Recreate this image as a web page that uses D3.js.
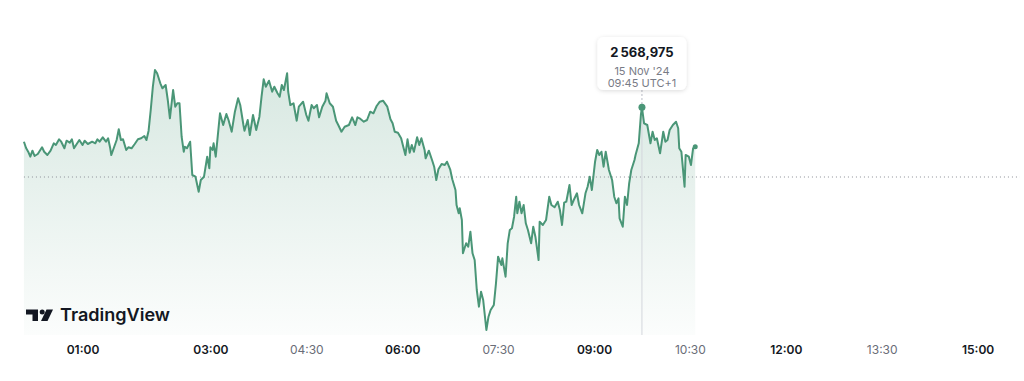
<!DOCTYPE html>
<html>
<head>
<meta charset="utf-8">
<script src="https://cdn.jsdelivr.net/npm/d3@7/dist/d3.min.js"></script>
<style>
  html, body { margin: 0; padding: 0; background: #ffffff; }
  svg { display: block; font-family: Inter, "Noto Sans", sans-serif; }
</style>
</head>
<body>
<svg id="chart" width="1024" height="381"></svg>
<script>
// ---- data (minutes since 00:00, price) ----
const times = [5,7,9,11,13,15,18,22,24,27,30,33,35,38,40,43,45,48,50,52,55,57,60,62,65,69,72,74,76,79,82,84,86,87,90,92,94,96,98,101,103,106,109,112,115,118,120,122,124,126,128,130,133,135,138,140,142,145,147,149,151,153,155,156,158,161,163,166,169,171,174,177,179,180,182,183,185,189,192,195,197,200,203,206,208,211,212,215,217,220,223,226,228,230,232,235,238,240,243,245,247,249,252,253,255,258,261,263,267,270,272,275,277,280,282,285,288,289,292,295,298,300,303,306,310,313,316,318,320,324,327,330,333,336,339,342,346,349,351,353,356,359,361,363,365,367,369,371,374,376,378,381,382,385,388,390,392,394,397,400,402,405,407,410,411,413,414,416,417,420,422,424,426,428,430,432,434,436,439,441,443,446,448,450,453,454,457,459,461,463,465,467,468,470,472,474,476,478,481,483,485,488,489,492,495,498,500,503,506,508,510,512,514,517,519,521,524,526,529,532,534,536,538,541,543,545,547,549,551,554,557,559,561,563,564,567,569,571,573,575,578,579,582,584,585,587,590,593,595,597,599,602,605,607,609,611,614,617,619,620,622,625,626,629,631,633,635];
const values = [2562095,2560835,2560095,2559095,2560295,2559235,2559635,2560975,2560095,2559435,2560295,2561775,2561435,2562575,2562095,2560775,2562295,2561895,2562575,2560775,2561775,2562435,2561435,2562295,2561635,2562095,2561775,2562575,2562095,2562975,2562095,2562775,2560775,2559435,2561235,2562435,2564575,2562435,2562575,2560435,2560975,2560775,2561635,2562575,2562775,2563235,2562435,2564295,2568435,2573095,2576435,2575775,2573775,2572775,2573435,2570435,2566775,2572435,2569095,2569775,2569775,2563095,2560095,2561095,2560775,2562095,2555435,2555095,2552095,2554435,2555095,2559095,2556775,2560975,2560435,2561775,2559095,2567775,2565435,2567635,2566435,2564095,2568095,2570775,2569435,2565435,2564295,2566435,2563435,2567435,2564435,2567095,2571095,2574575,2573095,2574295,2572095,2573095,2571775,2571095,2573435,2572435,2575775,2572095,2569435,2569775,2566295,2569095,2570095,2567435,2566295,2569435,2568775,2569435,2566975,2569095,2570295,2571775,2569775,2569095,2566295,2565435,2564095,2565095,2565435,2566975,2565435,2566975,2566775,2566095,2566435,2568095,2567775,2569235,2570095,2570295,2569095,2566575,2565775,2564095,2563895,2562775,2561095,2559435,2562575,2559895,2561435,2560095,2562975,2561435,2562775,2560435,2558775,2560295,2558435,2557095,2554435,2556575,2557635,2557435,2558095,2556575,2554575,2552435,2549435,2547775,2548775,2546435,2539775,2541775,2541095,2544095,2539775,2538435,2532435,2529095,2532095,2530435,2524435,2527095,2528435,2529435,2533775,2539095,2537435,2538775,2535095,2541775,2544435,2544775,2547095,2551095,2547775,2550095,2547775,2549435,2545775,2544435,2541775,2545095,2543095,2538435,2546095,2545435,2546435,2551095,2549435,2548975,2550095,2548435,2545435,2549895,2550095,2553435,2549435,2550435,2551775,2549435,2547775,2551775,2553095,2555095,2552435,2558095,2560435,2559435,2560095,2557095,2560095,2556435,2554435,2551095,2549775,2550775,2546775,2545095,2551095,2549435,2553775,2556435,2558435,2559435,2561775,2567435,2568975,2565775,2565435,2561775,2564095,2562435,2562775,2559775,2564095,2562095,2562435,2564435,2565435,2566095,2564775,2560775,2560095,2553095,2559435,2559095,2557435,2560775,2561095];
const prevClose = 2555035;
const tickMinutes = [60, 180, 270, 360, 450, 540, 630, 720, 810, 900];
const tickLabels = ["01:00", "03:00", "04:30", "06:00", "07:30", "09:00", "10:30", "12:00", "13:30", "15:00"];
const boldTicks = ["01:00", "03:00", "06:00", "09:00", "12:00", "15:00"];
const tooltipTime = 585;
const tooltipDate = "15 Nov '24";
const tooltipClock = "09:45 UTC+1";

// ---- chart ----
const svg = d3.select("#chart");
const lineColor = "#4a9677";
const x = d3.scaleLinear().domain([0, 900]).range([18.6, 977.6]);
const y = d3.scaleLinear().domain([2523435, 2590435]).range([335, 0]);
const data = times.map((t, i) => ({ t, v: values[i] }));
const bottom = y.range()[0];

const defs = svg.append("defs");
const grad = defs.append("linearGradient").attr("id", "areaGrad")
  .attr("gradientUnits", "userSpaceOnUse")
  .attr("x1", 0).attr("x2", 0).attr("y1", y(d3.max(values))).attr("y2", bottom);
grad.append("stop").attr("offset", 0).attr("stop-color", lineColor).attr("stop-opacity", 0.22);
grad.append("stop").attr("offset", 1).attr("stop-color", lineColor).attr("stop-opacity", 0.02);
const filt = defs.append("filter").attr("id", "shadow").attr("x", "-30%").attr("y", "-30%").attr("width", "160%").attr("height", "170%");
filt.append("feDropShadow").attr("dx", 0).attr("dy", 1).attr("stdDeviation", 2).attr("flood-color", "#000").attr("flood-opacity", 0.14);

// area
svg.append("path").datum(data)
  .attr("fill", "url(#areaGrad)")
  .attr("d", d3.area().x(d => x(d.t)).y0(bottom).y1(d => y(d.v)));

// previous close dotted line
svg.append("line")
  .attr("x1", x(times[0])).attr("x2", 1020)
  .attr("y1", y(prevClose)).attr("y2", y(prevClose))
  .attr("stroke", "#8c9097").attr("stroke-width", 1).attr("stroke-dasharray", "1,3");

// crosshair vertical line
const tipV = values[times.indexOf(tooltipTime)];
svg.append("line")
  .attr("x1", x(tooltipTime)).attr("x2", x(tooltipTime))
  .attr("y1", y(tipV)).attr("y2", bottom)
  .attr("stroke", "#d3d6dc").attr("stroke-width", 1);
svg.append("line")
  .attr("x1", x(tooltipTime)).attr("x2", x(tooltipTime))
  .attr("y1", 90).attr("y2", y(tipV))
  .attr("stroke", "#b8bcc4").attr("stroke-width", 1).attr("stroke-dasharray", "2,2");

// price line
svg.append("path").datum(data)
  .attr("fill", "none")
  .attr("stroke", lineColor)
  .attr("stroke-width", 2)
  .attr("stroke-linejoin", "round")
  .attr("d", d3.line().x(d => x(d.t)).y(d => y(d.v)));

// last point marker
svg.append("circle")
  .attr("cx", x(times[times.length - 1])).attr("cy", y(values[values.length - 1]))
  .attr("r", 2.5).attr("fill", lineColor);

// tooltip marker
svg.append("circle")
  .attr("cx", x(tooltipTime)).attr("cy", y(tipV))
  .attr("r", 3.5).attr("fill", lineColor);

// tooltip box
const tx = x(tooltipTime);
const tip = svg.append("g");
tip.append("rect")
  .attr("x", tx - 44.5).attr("y", 37).attr("width", 89).attr("height", 53)
  .attr("rx", 6).attr("fill", "#ffffff").attr("filter", "url(#shadow)");
tip.append("text")
  .attr("x", tx).attr("y", 57).attr("text-anchor", "middle")
  .attr("font-size", 13).attr("font-weight", 700).attr("fill", "#131722")
  .text(d3.format(",")(tipV).replace(/,(\d{3}),/, "\u2009$1,").replace(/^(\d),/, "$1\u2009"));
tip.append("text")
  .attr("x", tx).attr("y", 75).attr("text-anchor", "middle")
  .attr("font-size", 11).attr("fill", "#787b86").text(tooltipDate);
tip.append("text")
  .attr("x", tx).attr("y", 87).attr("text-anchor", "middle")
  .attr("font-size", 11).attr("fill", "#787b86").text(tooltipClock);

// x axis
const axis = d3.axisBottom(x).tickValues(tickMinutes)
  .tickFormat((d, i) => tickLabels[i]).tickSize(0).tickPadding(0);
const ag = svg.append("g").attr("transform", "translate(0,346)").call(axis);
ag.select(".domain").remove();
ag.selectAll("text")
  .attr("font-family", "Inter, 'Noto Sans', sans-serif")
  .attr("font-size", 12)
  .attr("dy", "0.32em")
  .attr("y", 4)
  .attr("font-weight", d => boldTicks.includes(tickLabels[tickMinutes.indexOf(d)]) ? 600 : 400)
  .attr("fill", d => boldTicks.includes(tickLabels[tickMinutes.indexOf(d)]) ? "#131722" : "#6a6d78");

// TradingView logo
const logo = svg.append("g").attr("fill", "#131722");
logo.append("path").attr("d", "M26 309.5 H38 V321 H32.5 V314.5 H26 Z");
logo.append("circle").attr("cx", 42.2).attr("cy", 312).attr("r", 2.5);
logo.append("path").attr("d", "M46.5 309.5 H53 L47.5 321 H41 Z");
logo.append("text")
  .attr("x", 60).attr("y", 321)
  .attr("font-size", 17).attr("font-weight", 600)
  .attr("textLength", 110).attr("lengthAdjust", "spacingAndGlyphs")
  .text("TradingView");
</script>
</body>
</html>
